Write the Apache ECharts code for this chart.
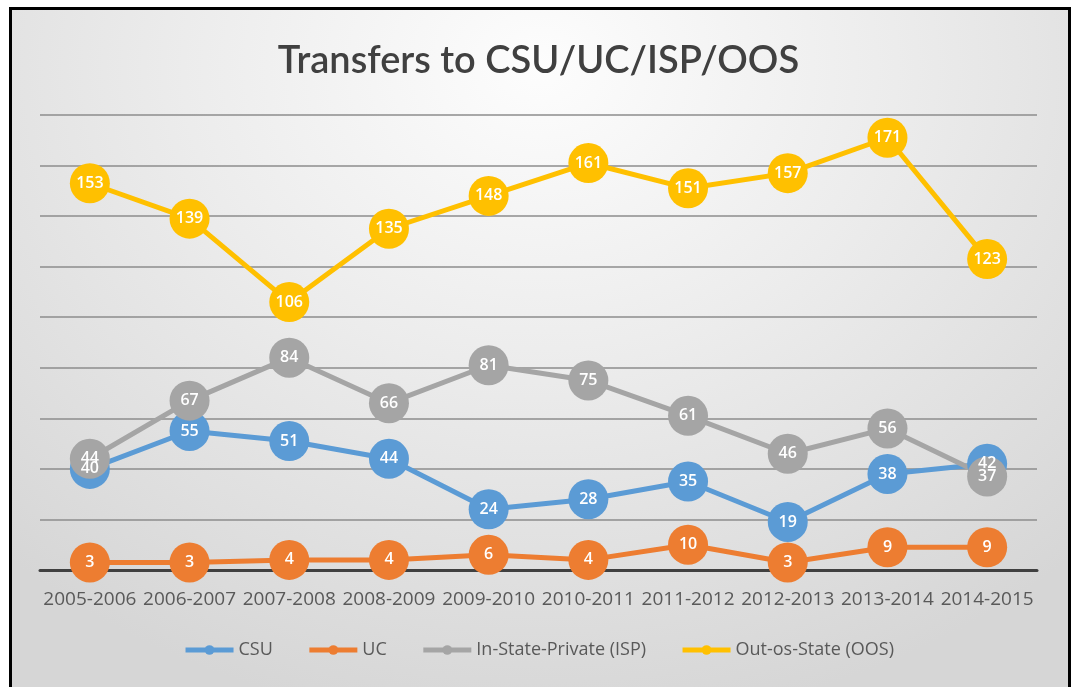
<!DOCTYPE html>
<html>
<head>
<meta charset="utf-8">
<script src="https://cdn.jsdelivr.net/npm/echarts@6/dist/echarts.min.js"></script>
<style>
  html, body { margin: 0; padding: 0; background: #fff; overflow: hidden; }
  #frame {
    position: absolute; left: 9px; top: 7px; width: 1056px; height: 700px;
    border: 3px solid #000; border-bottom: none;
    background: radial-gradient(ellipse 75% 95% at 50% 8%, #fdfdfd 0%, #ececec 45%, #d6d6d6 100%);
  }
  #chart { position: absolute; left: 0; top: 0; width: 1077px; height: 687px; }
</style>
</head>
<body>
<div id="frame"></div>
<div id="chart"></div>
<script>
const years = ['2005-2006', '2006-2007', '2007-2008', '2008-2009', '2009-2010',
  '2010-2011', '2011-2012', '2012-2013', '2013-2014', '2014-2015']
const csu = [40, 55, 51, 44, 24, 28, 35, 19, 38, 42]
const uc = [3, 3, 4, 4, 6, 4, 10, 3, 9, 9]
const isp = [44, 67, 84, 66, 81, 75, 61, 46, 56, 37]
const oos = [153, 139, 106, 135, 148, 161, 151, 157, 171, 123]

const chart = echarts.init(document.getElementById('chart'))

function lineSeries(name, color, data) {
  return {
    name: name,
    type: 'line',
    data: data,
    symbol: 'circle',
    symbolSize: 40,
    lineStyle: { color: color, width: 5 },
    itemStyle: { color: color },
    label: {
      show: true,
      position: 'inside',
      color: '#fff',
      fontSize: 16,
      fontWeight: 600,
      fontFamily: 'Open Sans'
    },
    emphasis: { disabled: true }
  }
}

chart.setOption({
  backgroundColor: 'transparent',
  animation: false,
  title: {
    text: 'Transfers to CSU/UC/ISP/OOS',
    left: 'center',
    top: 37,
    textStyle: {
      color: '#404040',
      fontSize: 38,
      fontWeight: 600,
      fontFamily: 'Lato'
    }
  },
  grid: {
    left: 40,
    right: 40,
    top: 115,
    bottom: 117
  },
  legend: {
    bottom: 23,
    left: 'center',
    itemWidth: 48,
    itemHeight: 12,
    itemGap: 34,
    lineStyle: { width: 5 },
    textStyle: { color: '#595959', fontSize: 18, fontFamily: 'Open Sans' },
    data: ['CSU', 'UC', 'In-State-Private (ISP)', 'Out-os-State (OOS)']
  },
  xAxis: {
    type: 'category',
    data: years,
    boundaryGap: true,
    axisLine: { lineStyle: { color: '#404040', width: 3 } },
    axisTick: { show: false },
    axisLabel: {
      color: '#595959',
      fontSize: 19,
      fontFamily: 'Open Sans',
      interval: 0,
      margin: 20
    }
  },
  yAxis: {
    type: 'value',
    min: 0,
    max: 180,
    interval: 20,
    axisLabel: { show: false },
    axisLine: { show: false },
    axisTick: { show: false },
    splitLine: { lineStyle: { color: '#8c8c8c', width: 1.5 } }
  },
  series: [
    lineSeries('CSU', '#5B9BD5', csu),
    lineSeries('UC', '#ED7D31', uc),
    lineSeries('In-State-Private (ISP)', '#A5A5A5', isp),
    lineSeries('Out-os-State (OOS)', '#FFC000', oos)
  ]
})
</script>
</body>
</html>
